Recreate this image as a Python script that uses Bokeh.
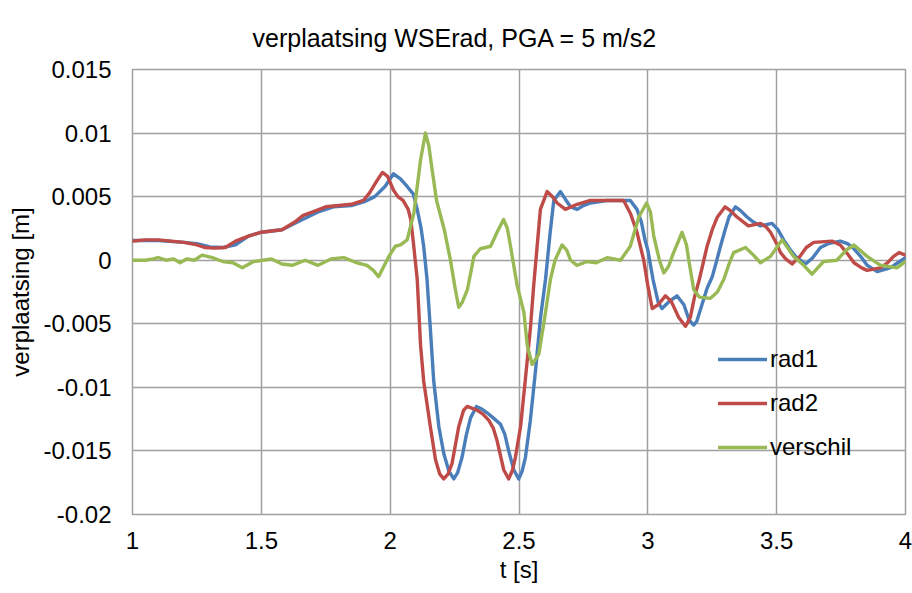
from bokeh.plotting import figure
from bokeh.models import Range1d, FixedTicker, Legend, LegendItem, Title
from bokeh.embed import file_html
from bokeh.resources import INLINE

# ---- data ----
t_rad1 = [1.00, 1.10, 1.20, 1.25, 1.30, 1.35, 1.40, 1.45, 1.50, 1.58, 1.66, 1.72, 1.78, 1.85, 1.90, 1.94,
          1.98, 2.013, 2.04, 2.066, 2.09, 2.105, 2.12, 2.13, 2.143, 2.156, 2.169, 2.189, 2.208, 2.228, 2.247,
          2.262, 2.279, 2.295, 2.312, 2.335, 2.355, 2.376, 2.40, 2.428, 2.445, 2.46, 2.48, 2.499, 2.512, 2.525,
          2.544, 2.564, 2.583, 2.603, 2.62, 2.635, 2.661, 2.68, 2.70, 2.726, 2.75, 2.777, 2.84, 2.90, 2.932,
          2.958, 2.975, 2.99, 3.00, 3.02, 3.04, 3.055, 3.08, 3.113, 3.14, 3.16, 3.178, 3.19, 3.21, 3.23, 3.25,
          3.265, 3.282, 3.30, 3.315, 3.34, 3.36, 3.385, 3.41, 3.437, 3.46, 3.482, 3.505, 3.527, 3.55, 3.573,
          3.612, 3.64, 3.67, 3.70, 3.747, 3.775, 3.80, 3.83, 3.851, 3.89, 3.94, 3.97, 4.00]
rad1 = [0.00155, 0.00155, 0.0014, 0.0013, 0.00105, 0.001, 0.0012, 0.0019, 0.0022, 0.0024, 0.0032, 0.0038,
        0.0042, 0.0043, 0.0046, 0.005, 0.0058, 0.0068, 0.0064, 0.0058, 0.0052, 0.0040, 0.0025, 0.0011, -0.0015,
        -0.0054, -0.0095, -0.0131, -0.0152, -0.0166, -0.0172, -0.0167, -0.0155, -0.0138, -0.0124, -0.0115,
        -0.0117, -0.0120, -0.0124, -0.0129, -0.0137, -0.0150, -0.0165, -0.0172, -0.0166, -0.0155, -0.0126,
        -0.0087, -0.0046, -0.0015, 0.0020, 0.0047, 0.0054, 0.0048, 0.0042, 0.0040, 0.0043, 0.0045, 0.0047,
        0.0047, 0.0047, 0.0040, 0.0030, 0.0015, 0.0008, -0.0015, -0.0033, -0.0038, -0.0033, -0.0028, -0.0035,
        -0.0047, -0.0051, -0.0048, -0.0035, -0.0022, -0.0013, -0.0002, 0.0011, 0.0024, 0.0034, 0.0042, 0.0039,
        0.0034, 0.0030, 0.0027, 0.0028, 0.0029, 0.0024, 0.0016, 0.0009, 0.0003, -0.0003, 0.0002, 0.0010, 0.0013,
        0.0015, 0.0013, 0.0009, 0.0002, -0.0004, -0.0009, -0.0006, -0.0002, 0.0002]

t_rad2 = [1.00, 1.05, 1.10, 1.15, 1.20, 1.25, 1.28, 1.32, 1.36, 1.40, 1.45, 1.50, 1.58, 1.63, 1.66, 1.70,
          1.75, 1.80, 1.85, 1.896, 1.92, 1.95, 1.97, 1.99, 2.013, 2.03, 2.05, 2.07, 2.08, 2.09, 2.105, 2.118,
          2.13, 2.156, 2.176, 2.192, 2.208, 2.225, 2.24, 2.266, 2.285, 2.299, 2.338, 2.36, 2.383, 2.40, 2.415,
          2.441, 2.46, 2.475, 2.486, 2.506, 2.525, 2.544, 2.557, 2.57, 2.583, 2.609, 2.63, 2.648, 2.68, 2.726,
          2.777, 2.84, 2.906, 2.932, 2.958, 2.984, 3.00, 3.017, 3.04, 3.068, 3.09, 3.12, 3.146, 3.165, 3.18,
          3.20, 3.215, 3.23, 3.25, 3.27, 3.30, 3.32, 3.346, 3.39, 3.415, 3.437, 3.46, 3.476, 3.50, 3.515, 3.535,
          3.56, 3.59, 3.615, 3.644, 3.715, 3.747, 3.775, 3.80, 3.83, 3.851, 3.903, 3.93, 3.954, 3.975, 4.00]
rad2 = [0.0015, 0.0016, 0.0016, 0.0015, 0.0014, 0.0012, 0.001, 0.00095, 0.001, 0.0015, 0.0019, 0.0022,
        0.0024, 0.003, 0.0035, 0.0038, 0.0042, 0.0043, 0.0044, 0.0047, 0.0053, 0.0063, 0.0069, 0.0066, 0.0055,
        0.0050, 0.0047, 0.0040, 0.0032, 0.0014, -0.0015, -0.0067, -0.0095, -0.0131, -0.0157, -0.0168, -0.0172,
        -0.0168, -0.0160, -0.0131, -0.0118, -0.0115, -0.0118, -0.0121, -0.0126, -0.0132, -0.0142, -0.0165,
        -0.0172, -0.0165, -0.0155, -0.0131, -0.0093, -0.0054, -0.0020, 0.0010, 0.0040, 0.0054, 0.0050, 0.0045,
        0.0040, 0.0044, 0.0047, 0.0047, 0.0047, 0.0037, 0.0022, 0.0000, -0.0020, -0.0038, -0.0035, -0.0028,
        -0.0032, -0.0045, -0.0052, -0.0045, -0.0030, -0.0015, -0.0002, 0.0011, 0.0024, 0.0034, 0.0042, 0.0039,
        0.0034, 0.0027, 0.0028, 0.0029, 0.0026, 0.0022, 0.0013, 0.0006, 0.0001, -0.0003, 0.0003, 0.0010, 0.0014,
        0.0015, 0.0012, 0.0005, -0.0002, -0.0006, -0.0008, -0.0006, -0.0002, 0.0003, 0.0006, 0.0004]

t_verschil = [1.00, 1.05, 1.08, 1.10, 1.13, 1.16, 1.185, 1.21, 1.24, 1.27, 1.31, 1.35, 1.39, 1.426, 1.47,
              1.54, 1.58, 1.62, 1.67, 1.72, 1.77, 1.82, 1.87, 1.91, 1.935, 1.955, 1.975, 1.995, 2.02, 2.04,
              2.066, 2.092, 2.118, 2.137, 2.15, 2.163, 2.18, 2.21, 2.234, 2.253, 2.266, 2.28, 2.30, 2.325, 2.35,
              2.39, 2.415, 2.44, 2.455, 2.467, 2.493, 2.519, 2.532, 2.551, 2.577, 2.603, 2.622, 2.64, 2.667,
              2.685, 2.70, 2.725, 2.764, 2.80, 2.842, 2.894, 2.932, 2.965, 2.995, 3.01, 3.023, 3.045, 3.062,
              3.08, 3.10, 3.133, 3.15, 3.159, 3.178, 3.20, 3.243, 3.27, 3.295, 3.315, 3.333, 3.379, 3.41, 3.437,
              3.476, 3.521, 3.566, 3.605, 3.637, 3.682, 3.734, 3.77, 3.80, 3.851, 3.903, 3.967, 4.00]
verschil = [0.0, 0.0, 0.0001, 0.0002, 0.0, 0.0001, -0.0002, 0.0001, 0.0, 0.0004, 0.0002, -0.0001, -0.0002,
            -0.0006, -0.0001, 0.0001, -0.0003, -0.0004, 0.0, -0.0004, 0.0001, 0.0002, -0.0002, -0.0004,
            -0.0008, -0.0013, -0.0005, 0.0003, 0.0011, 0.0012, 0.0016, 0.0037, 0.0079, 0.0100, 0.0090, 0.0071,
            0.0047, 0.0024, 0.0, -0.0023, -0.0037, -0.0033, -0.0023, 0.0003, 0.0009, 0.0011, 0.0022, 0.0032,
            0.0025, 0.0011, -0.0020, -0.0041, -0.0067, -0.0082, -0.0074, -0.0041, -0.0015, 0.0, 0.0012, 0.0008,
            0.0, -0.0004, -0.0001, -0.0002, 0.0002, 0.0, 0.0011, 0.0034, 0.0045, 0.0038, 0.0019, 0.0000, -0.0010,
            -0.0005, 0.0006, 0.0022, 0.0012, 0.0, -0.0023, -0.0029, -0.0030, -0.0025, -0.0015, -0.0003, 0.0006,
            0.0010, 0.0004, -0.0002, 0.0003, 0.0016, 0.0003, -0.0004, -0.0011, -0.0001, 0.0, 0.0008, 0.0012,
            0.0003, -0.0004, -0.0006, -0.0001]

series_names = ["rad1", "rad2", "verschil"]
series_colors = ["#4a7ebb", "#be4b48", "#98b954"]

x_ticks = [1, 1.5, 2, 2.5, 3, 3.5, 4]
x_tick_labels = ["1", "1.5", "2", "2.5", "3", "3.5", "4"]
y_ticks = [-0.02, -0.015, -0.01, -0.005, 0, 0.005, 0.01, 0.015]
y_tick_labels = ["-0.02", "-0.015", "-0.01", "-0.005", "0", "0.005", "0.01", "0.015"]

title_text = "verplaatsing WSErad, PGA = 5 m/s2"
x_label = "t [s]"
y_label = "verplaatsing [m]"

FONT = "Liberation Sans"

p = figure(width=912, height=593, output_backend="svg", toolbar_location=None,
           x_range=Range1d(1, 4), y_range=Range1d(-0.02, 0.015),
           min_border_left=132, min_border_right=7, min_border_top=69, min_border_bottom=79)
p.background_fill_color = "white"
p.border_fill_color = "white"
p.outline_line_color = "#a0a0a0"
p.outline_line_width = 1.5

p.title = Title(text=title_text, align="left", offset=120, text_font=FONT, text_font_size="25px",
                text_font_style="normal", text_color="#000000", standoff=36)

for ax in (p.xaxis[0], p.yaxis[0]):
    ax.axis_line_color = None
    ax.major_tick_line_color = None
    ax.minor_tick_line_color = None
    ax.major_tick_out = 0
    ax.major_tick_in = 0
    ax.minor_tick_out = 0
    ax.minor_tick_in = 0
    ax.major_label_text_font = FONT
    ax.major_label_text_font_size = "24px"
    ax.major_label_text_color = "#000000"
    ax.axis_label_text_font = FONT
    ax.axis_label_text_font_size = "24px"
    ax.axis_label_text_font_style = "normal"
    ax.axis_label_text_color = "#000000"

p.xaxis.ticker = FixedTicker(ticks=x_ticks)
p.xaxis.major_label_overrides = {x: s for x, s in zip(x_ticks, x_tick_labels)}
p.xaxis.major_label_standoff = 17
p.xaxis.axis_label = x_label
p.xaxis.axis_label_standoff = 4

p.yaxis.ticker = FixedTicker(ticks=y_ticks)
p.yaxis.major_label_overrides = {y: s for y, s in zip(y_ticks, y_tick_labels)}
p.yaxis.major_label_standoff = 21
p.yaxis.axis_label = y_label
p.yaxis.axis_label_standoff = 6

p.xgrid.ticker = FixedTicker(ticks=x_ticks)
p.ygrid.ticker = FixedTicker(ticks=y_ticks)
for g in (p.xgrid[0], p.ygrid[0]):
    g.grid_line_color = "#a0a0a0"
    g.grid_line_width = 1.5

renderers = []
for ts, vs, c in zip([t_rad1, t_rad2, t_verschil], [rad1, rad2, verschil], series_colors):
    r = p.line(ts, vs, line_color=c, line_width=3.4, line_join="round", line_cap="round")
    renderers.append(r)

legend = Legend(items=[LegendItem(label=n, renderers=[r]) for n, r in zip(series_names, renderers)],
                location=(586, 53), orientation="vertical",
                glyph_width=49, glyph_height=20, label_height=20, label_standoff=3, spacing=16,
                padding=0, margin=0, border_line_color=None, background_fill_alpha=0,
                label_text_font=FONT, label_text_font_size="24px", label_text_color="#000000")
p.add_layout(legend, "center")

open("out.html", "w").write(file_html(p, INLINE))
